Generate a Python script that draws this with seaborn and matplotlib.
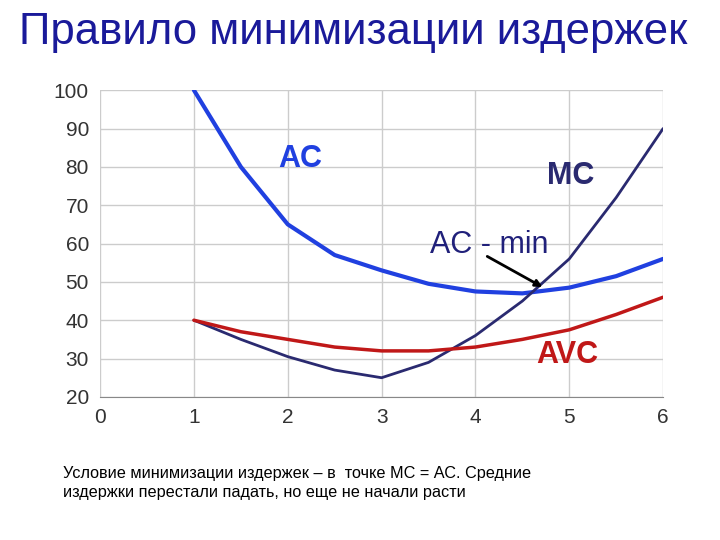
import matplotlib
matplotlib.use("Agg")
import matplotlib.pyplot as plt
import seaborn as sns
import pandas as pd

# values
q = [1, 1.5, 2, 2.5, 3, 3.5, 4, 4.5, 5, 5.5, 6]
ac = [100, 80, 65, 57, 53, 49.5, 47.5, 47, 48.5, 51.5, 56]
mc = [40, 35, 30.5, 27, 25, 29, 36, 45, 56, 72, 90]
avc = [40, 37, 35, 33, 32, 32, 33, 35, 37.5, 41.5, 46]

sns.set_style("whitegrid")
plt.rcParams['font.family'] = ['Liberation Sans', 'DejaVu Sans']

df = pd.DataFrame({"Q": q, "AC": ac, "MC": mc, "AVC": avc})

fig = plt.figure(figsize=(7.2, 5.4), dpi=100)
ax = fig.add_axes([0.139, 0.265, 0.782, 0.568])

sns.lineplot(data=df, x="Q", y="AC", ax=ax, color="#2040e0", linewidth=3)
sns.lineplot(data=df, x="Q", y="MC", ax=ax, color="#2a2a70", linewidth=2)
sns.lineplot(data=df, x="Q", y="AVC", ax=ax, color="#c01818", linewidth=2.5)

ax.set_xlim(0, 6)
ax.set_ylim(20, 100)
ax.set_xticks(range(0, 7))
ax.set_yticks(range(20, 101, 10))
ax.tick_params(labelsize=15, colors="#333333", length=0, pad=8)
ax.set_xlabel("")
ax.set_ylabel("")
ax.grid(color="#cccccc", linewidth=1)
for s in ax.spines.values():
    s.set_visible(False)
ax.spines["bottom"].set_visible(True)
ax.spines["bottom"].set_color("#888888")

ax.text(2.13, 82, "AC", color="#2040e0", fontsize=22, fontweight="bold", ha="center", va="center")
ax.text(5.02, 77.5, "MC", color="#2a2a70", fontsize=22, fontweight="bold", ha="center", va="center")
ax.text(4.15, 59.5, "AC - min", color="#20207a", fontsize=22, ha="center", va="center")
ax.text(4.98, 31, "AVC", color="#c01818", fontsize=22, fontweight="bold", ha="center", va="center")
ax.annotate("", xy=(4.74, 48.3), xytext=(4.1, 57),
            arrowprops=dict(arrowstyle="-|>", color="black", lw=2))

fig.text(0.027, 0.94, "Правило минимизации издержек", fontsize=31.5, color="#1a1a9a",
         ha="left", va="center")
fig.text(0.087, 0.106, "Условие минимизации издержек – в  точке МС = АС. Средние\n"
         "издержки перестали падать, но еще не начали расти",
         fontsize=11.7, color="black", ha="left", va="center", linespacing=1.35)

fig.savefig("out.png", dpi=100)
